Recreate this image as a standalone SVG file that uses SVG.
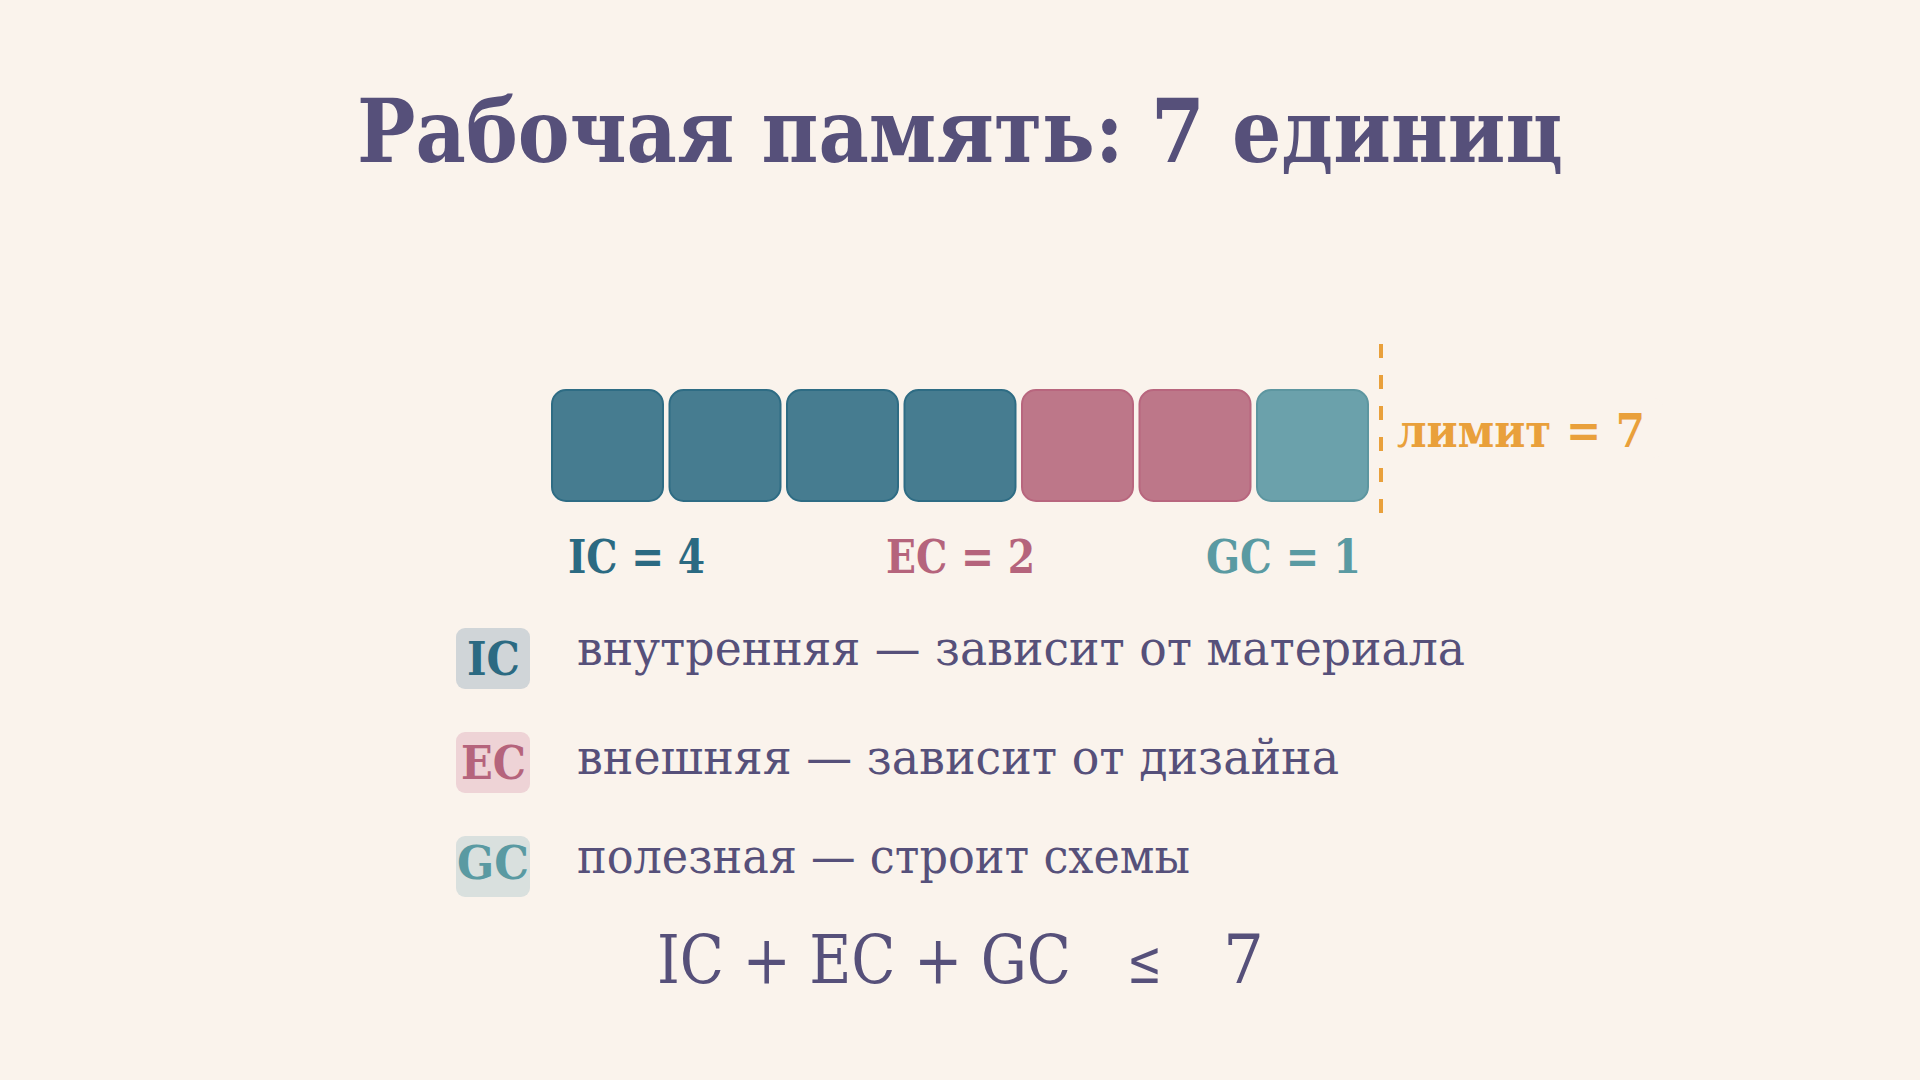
<svg xmlns="http://www.w3.org/2000/svg" width="1920" height="1080" viewBox="0 0 1920 1080">
<style>
.t{font-family:"DejaVu Serif","Liberation Serif",serif;}
.b{font-weight:bold;}
.ic{fill:#467C90;stroke:#2E6C84;stroke-width:2;}
.ec{fill:#BD7789;stroke:#B8667E;stroke-width:2;}
.gc{fill:#6BA1AB;stroke:#5D96A0;stroke-width:2;}
.leg{font-size:48px;fill:#56507A;}
.badge{font-size:46px;font-weight:bold;}
</style>
<rect width="1920" height="1080" fill="#FAF3EC"/>
<g id="title"><text class="t b" x="357" y="162" font-size="88" fill="#56507A" textLength="1206" lengthAdjust="spacingAndGlyphs">Рабочая память: 7 единиц</text></g>
<g id="cells">
<rect class="ic" x="552" y="390" width="111" height="111" rx="14"/>
<rect class="ic" x="669.5" y="390" width="111" height="111" rx="14"/>
<rect class="ic" x="787" y="390" width="111" height="111" rx="14"/>
<rect class="ic" x="904.5" y="390" width="111" height="111" rx="14"/>
<rect class="ec" x="1022" y="390" width="111" height="111" rx="14"/>
<rect class="ec" x="1139.5" y="390" width="111" height="111" rx="14"/>
<rect class="gc" x="1257" y="390" width="111" height="111" rx="14"/>
</g>
<g id="limit">
<line x1="1381" y1="344" x2="1381" y2="516" stroke="#E9A03B" stroke-width="4" stroke-dasharray="14 17"/>
<rect x="1383" y="398" width="280" height="60" rx="10" fill="#FAF3EC" opacity="0.6"/>
<text class="t b" x="1397" y="447" font-size="47" fill="#E9A03B" textLength="248" lengthAdjust="spacingAndGlyphs">лимит = 7</text>
</g>
<g id="counts">
<text class="t b" x="568" y="573" font-size="47" fill="#2B6A82" textLength="137" lengthAdjust="spacingAndGlyphs">IC = 4</text>
<text class="t b" x="886" y="573" font-size="47" fill="#B5647C" textLength="149" lengthAdjust="spacingAndGlyphs">EC = 2</text>
<text class="t b" x="1206" y="573" font-size="47" fill="#5A9AA2" textLength="155" lengthAdjust="spacingAndGlyphs">GC = 1</text>
</g>
<g id="legend-ic">
<rect x="456" y="628" width="74" height="61" rx="9" fill="#D0D5D8"/>
<text class="t badge" x="467" y="675" fill="#2B6A82" textLength="53" lengthAdjust="spacingAndGlyphs">IC</text>
<text class="t leg" x="577" y="665" textLength="888" lengthAdjust="spacingAndGlyphs">внутренняя — зависит от материала</text>
</g>
<g id="legend-ec">
<rect x="456" y="732" width="74" height="61" rx="9" fill="#EED3D6"/>
<text class="t badge" x="461" y="779" fill="#B5647C" textLength="65" lengthAdjust="spacingAndGlyphs">EC</text>
<text class="t leg" x="577" y="774" textLength="762" lengthAdjust="spacingAndGlyphs">внешняя — зависит от дизайна</text>
</g>
<g id="legend-gc">
<rect x="456" y="836" width="74" height="61" rx="9" fill="#D9E0DE"/>
<text class="t badge" x="457" y="879" fill="#5A9AA2" textLength="72" lengthAdjust="spacingAndGlyphs">GC</text>
<text class="t leg" x="577" y="873" textLength="613" lengthAdjust="spacingAndGlyphs">полезная — строит схемы</text>
</g>
<g id="formula">
<text class="t" x="657" y="983" font-size="68" fill="#56507A" textLength="414" lengthAdjust="spacingAndGlyphs">IC + EC + GC</text>
<text class="t" x="1127" y="983" font-size="60" fill="#56507A" textLength="35" lengthAdjust="spacingAndGlyphs">≤</text>
<text class="t" x="1223" y="983" font-size="68" fill="#56507A" textLength="41" lengthAdjust="spacingAndGlyphs">7</text>
</g>
</svg>
